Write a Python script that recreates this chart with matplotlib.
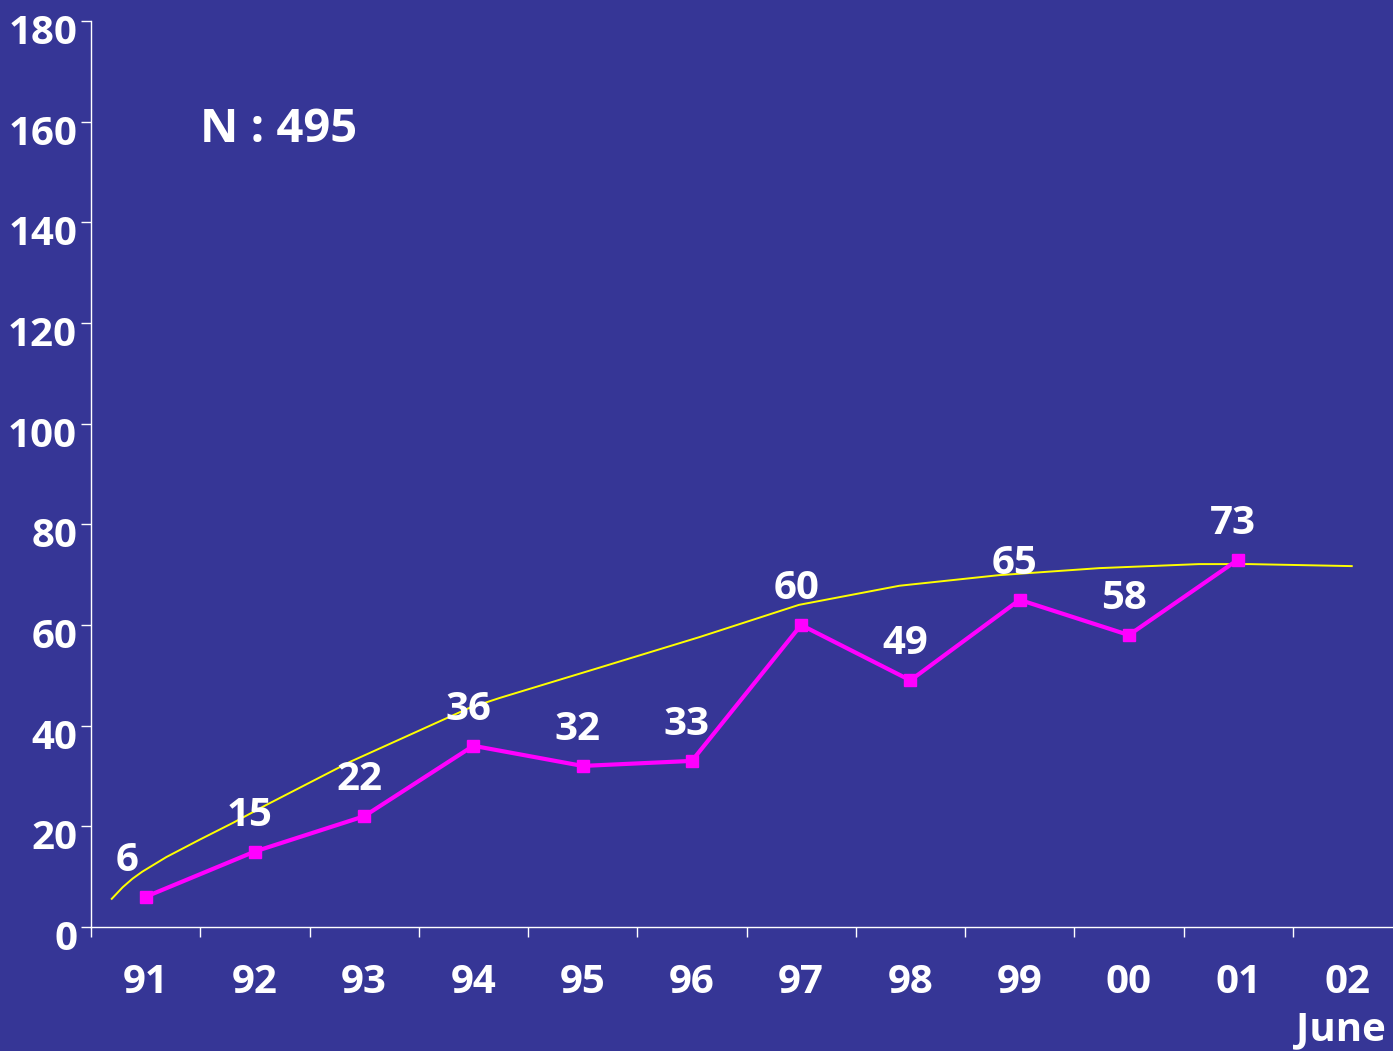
import matplotlib
matplotlib.use("Agg")
import matplotlib.pyplot as plt
import matplotlib.transforms as mtransforms

BG = "#363696"

years = ["91", "92", "93", "94", "95", "96", "97", "98", "99", "00", "01", "02"]
cases = [6, 15, 22, 36, 32, 33, 60, 49, 65, 58, 73]

# yellow trend curve (x in category units)
trend_x = [-0.31, -0.21, -0.12, -0.03, 0.19, 0.49, 0.80, 1.10, 1.87, 2.96, 3.24,
           4.15, 5.07, 5.98, 6.90, 7.81, 8.73, 9.64, 10.10, 11.04]
trend_y = [5.6, 7.9, 9.6, 11.0, 13.9, 17.3, 20.7, 24.2, 32.8, 43.5, 45.5,
           51.5, 57.6, 64.0, 67.8, 69.9, 71.3, 72.1, 72.1, 71.7]

y_ticks = [0, 20, 40, 60, 80, 100, 120, 140, 160, 180]

plt.rcParams['font.family'] = ['Open Sans', 'DejaVu Sans']
plt.rcParams['font.weight'] = 'bold'

FS = 29

fig = plt.figure(figsize=(13.93, 10.51), dpi=100, facecolor=BG)
ax = fig.add_axes([91/1393, 1 - 927/1051, 1311/1393, 906/1051])
ax.set_facecolor(BG)

ax.plot(trend_x, trend_y, color="#ffff00", lw=1.4, zorder=2)
ax.plot(range(len(cases)), cases, color="#ff00ff", lw=3, marker="s", ms=9, zorder=3)

for i, v in enumerate(cases):
    dx = -19 if i == 0 else -5
    ax.annotate(str(v), (i, v), xytext=(dx, 17), textcoords="offset pixels",
                ha="center", va="bottom", color="white", fontsize=FS, fontweight="bold", zorder=4)

ax.set_xlim(-0.5, len(years) - 0.5)
ax.set_ylim(0, 180)

for s in ["top", "right"]:
    ax.spines[s].set_visible(False)
for s in ["left", "bottom"]:
    ax.spines[s].set_color("white")
    ax.spines[s].set_linewidth(1.0)

ax.set_yticks(y_ticks)
ax.set_yticklabels([str(t) for t in y_ticks])
ax.tick_params(axis="y", colors="white", length=7, width=1.0, pad=3, labelsize=FS)
off = mtransforms.ScaledTranslation(0, -8/100, fig.dpi_scale_trans)
for lab in ax.get_yticklabels():
    lab.set_transform(lab.get_transform() + off)

ax.set_xticks([i - 0.5 for i in range(len(years))])
ax.set_xticklabels([])
ax.set_xticks(range(len(years)), minor=True)
ax.set_xticklabels(years, minor=True)
ax.tick_params(axis="x", which="major", colors="white", length=7, width=1.0)
ax.tick_params(axis="x", which="minor", colors="white", length=0, pad=26, labelsize=FS)

fig.text(200/1393, 1 - 142/1051, "N : 495", color="white", fontsize=34, fontweight="bold",
         ha="left", va="baseline")
fig.text(1296/1393, 1 - 1010/1051, "June", color="white", fontsize=FS, fontweight="bold",
         ha="left", va="top")

fig.savefig("out.png", dpi=100, facecolor=BG)
